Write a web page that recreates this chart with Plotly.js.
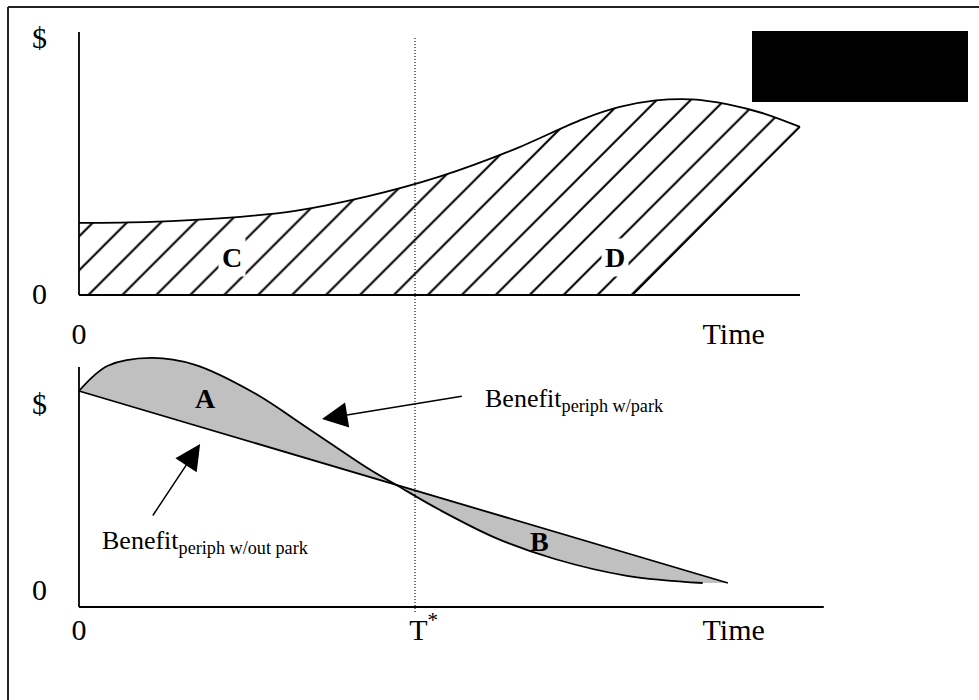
<!DOCTYPE html>
<html><head><meta charset="utf-8">
<script src="https://cdn.plot.ly/plotly-3.0.1.min.js"></script>
<style>html,body{margin:0;padding:0;background:#fff}</style>
</head><body><div id="chart" style="width:979px;height:700px"></div>
<script>
// ---- Top panel: curve over time with hatched area (C, D)
const topTime  = [0, 1, 2, 3, 4, 5, 6, 7, 7.5, 8, 8.5, 9, 9.5, 10];
const topValue = [2.74, 2.78, 2.92, 3.2, 3.75, 4.5, 5.5, 6.7, 7.15, 7.4, 7.44, 7.25, 6.9, 6.39];
const edgeTime  = [0, 7.68, 10];
const edgeValue = [0, 0, 6.39];
// ---- Bottom panel: benefit without park (straight) and with park (curve)
const withoutParkTime  = [0, 9];
const withoutParkValue = [9, 1];
const withParkTime  = [0, 0.4, 1.0, 1.6, 2.4, 3.2, 4.0, 4.42, 5.0, 5.8, 6.6, 7.6, 8.65];
const withParkValue = [9.0, 10.05, 10.38, 10.1, 8.97, 7.4, 5.79, 5.05, 4.05, 2.85, 2.0, 1.3, 1.0];
const tStar = 4.66;
const tStarLabelPos = 4.78;
const timeLabelPos = 9.08;
const topXTickVals = [0, timeLabelPos];
const topXTicks = ['0', 'Time'];
const bottomXTickVals = [0, tStarLabelPos, timeLabelPos];
const bottomXTicks = ['0', 'T<sup>*</sup>', 'Time'];
const topYTickVals = [0.04, 9.8];
const bottomYTickVals = [0.75, 8.5];
const yTickText = ['0', '$'];
const topAxisEnd = 10, bottomAxisEnd = 10.33, yAxisTop = 10;

const F = '"Liberation Serif", "Times New Roman", serif';
const pxPerT = 72.1;
const common = {showgrid:false, zeroline:false, showline:false, ticks:'', fixedrange:true,
  tickmode:'array', tickfont:{family:F, size:30, color:'#000'}};

const traces = [
  {x: edgeTime, y: edgeValue, xaxis:'x', yaxis:'y', mode:'lines', line:{color:'#000', width:1.4}, hoverinfo:'skip'},
  {x: topTime, y: topValue, xaxis:'x', yaxis:'y', mode:'lines', line:{color:'#000', width:1.8, shape:'spline'},
   fill:'tonexty', fillcolor:'#ffffff',
   fillpattern:{shape:'/', size:24, solidity:0.085, fgcolor:'#000', bgcolor:'#ffffff', fillmode:'replace'}, hoverinfo:'skip'},
  {x: withoutParkTime, y: withoutParkValue, xaxis:'x2', yaxis:'y2', mode:'lines', line:{color:'#000', width:1.8}, hoverinfo:'skip'},
  {x: withParkTime, y: withParkValue, xaxis:'x2', yaxis:'y2', mode:'lines', line:{color:'#000', width:1.8, shape:'spline', smoothing:1},
   fill:'tonexty', fillcolor:'#c0c0c0', hoverinfo:'skip'}
];

const axLine = {color:'#000', width:1.8};
const shapes = [
  {type:'line', xref:'x', yref:'y', x0:0, x1:0, y0:0, y1:yAxisTop, line:axLine},
  {type:'line', xref:'x', yref:'y', x0:0, x1:topAxisEnd, y0:0, y1:0, line:axLine},
  {type:'line', xref:'x2', yref:'y2', x0:0, x1:0, y0:0, y1:yAxisTop, line:axLine},
  {type:'line', xref:'x2', yref:'y2', x0:0, x1:bottomAxisEnd, y0:0, y1:0, line:axLine},
  {type:'line', xref:'x', yref:'paper', x0:tStar, x1:tStar, y0:1-612/700, y1:1-36/700, line:{color:'#000', width:1.1, dash:'1px,2px'}},
  {type:'rect', xref:'paper', yref:'paper', x0:752/979, x1:968/979, y0:1-102/700, y1:1-31/700, fillcolor:'#000', line:{width:0}},
  {type:'line', xref:'paper', yref:'paper', x0:8/979, x1:8/979, y0:0, y1:1-7/700, line:{color:'#222', width:2}},
  {type:'line', xref:'paper', yref:'paper', x0:8/979, x1:1, y0:1-7/700, y1:1-7/700, line:{color:'#222', width:2}}
];

const big = {family:F, size:28, color:'#000'};
const ben = {family:F, size:26, color:'#000'};
const arrowStyle = {showarrow:true, arrowhead:2, arrowsize:3.4, arrowwidth:1.5, arrowcolor:'#000', standoff:0};
const annotations = [
  {xref:'x', yref:'y', x:2.12, y:1.41, text:'<b>C</b>', showarrow:false, font:big, bgcolor:'#fff', borderpad:3},
  {xref:'x', yref:'y', x:7.43, y:1.41, text:'<b>D</b>', showarrow:false, font:big, bgcolor:'#fff', borderpad:3},
  {xref:'x2', yref:'y2', x:1.76, y:8.67, text:'<b>A</b>', showarrow:false, font:big},
  {xref:'x2', yref:'y2', x:6.39, y:2.71, text:'<b>B</b>', showarrow:false, font:big},
  {xref:'x2', yref:'y2', x:5.60, y:8.62, xanchor:'left', text:'Benefit<sub>periph w/park</sub>', showarrow:false, font:ben},
  {xref:'x2', yref:'y2', x:0.29, y:2.7, xanchor:'left', text:'Benefit<sub>periph w/out park</sub>', showarrow:false, font:ben},
  Object.assign({xref:'x2', yref:'y2', x:3.37, y:7.83, axref:'x2', ayref:'y2', ax:5.33, ay:8.79, text:''}, arrowStyle),
  Object.assign({xref:'x2', yref:'y2', x:1.68, y:6.79, axref:'x2', ayref:'y2', ax:1.01, ay:3.75, text:''}, arrowStyle)
];

const layout = {
  width:979, height:700, margin:{l:0, r:0, t:0, b:0},
  paper_bgcolor:'#fff', plot_bgcolor:'rgba(0,0,0,0)', showlegend:false,
  xaxis: Object.assign({}, common, {domain:[0,1], range:[-79/pxPerT, 900/pxPerT], anchor:'free', position:1-295/700,
    tickvals:topXTickVals, ticktext:topXTicks, ticklabelstandoff:18}),
  yaxis: Object.assign({}, common, {domain:[1-315/700, 1-10/700], range:[(295-315)/26.3, (295-10)/26.3], anchor:'free', position:79/979,
    tickvals:topYTickVals, ticktext:yTickText, ticklabelstandoff:32}),
  xaxis2: Object.assign({}, common, {domain:[0,1], range:[-79/pxPerT, 900/pxPerT], anchor:'free', position:1-607/700,
    tickvals:bottomXTickVals, ticktext:bottomXTicks, ticklabelstandoff:2}),
  yaxis2: Object.assign({}, common, {domain:[1-620/700, 1-340/700], range:[(607-620)/24, (607-340)/24], anchor:'free', position:79/979,
    tickvals:bottomYTickVals, ticktext:yTickText, ticklabelstandoff:32}),
  shapes: shapes, annotations: annotations
};
Plotly.newPlot('chart', traces, layout, {displayModeBar:false, staticPlot:true});
</script></body></html>
